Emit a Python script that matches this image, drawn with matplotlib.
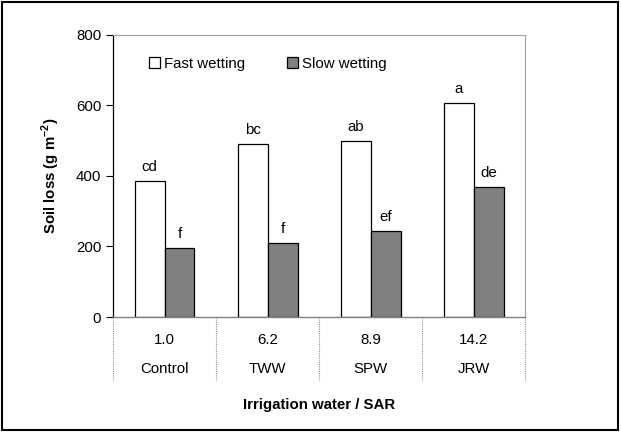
import numpy as np
import matplotlib
matplotlib.use("Agg")
import matplotlib.pyplot as plt
from matplotlib.patches import Rectangle

plt.rcParams['font.family'] = ['Liberation Sans', 'DejaVu Sans']

#data
treatments = ["Control", "TWW", "SPW", "JRW"]
sar = ["1.0", "6.2", "8.9", "14.2"]
fast = [385, 490, 500, 605]
slow = [195, 210, 244, 368]
fast_letters = ["cd", "bc", "ab", "a"]
slow_letters = ["f", "f", "ef", "de"]

fs = 10.8

fig = plt.figure(figsize=(6.21, 4.32), dpi=100)
ax = fig.add_axes([0.182, 0.266, 0.664, 0.654])

x = np.arange(len(treatments))
w = 0.29
b1 = ax.bar(x - w/2, fast, w, color="white", edgecolor="black", linewidth=0.9, label="Fast wetting")
b2 = ax.bar(x + w/2, slow, w, color="#808080", edgecolor="black", linewidth=0.9, label="Slow wetting")

for rects, labs in [(b1, fast_letters), (b2, slow_letters)]:
    for r, lab in zip(rects, labs):
        ax.annotate(lab, (r.get_x() + r.get_width()/2, r.get_height()),
                    xytext=(0, 5), textcoords="offset points",
                    ha="center", va="bottom", fontsize=fs)

ax.set_xlim(-0.5, 3.5)
ax.set_ylim(0, 800)
ax.set_yticks([0, 200, 400, 600, 800])
ax.tick_params(axis="y", labelsize=fs, length=5, width=0.8, direction="out")
ax.set_xticks([])

ax.spines["left"].set_color("black")
ax.spines["left"].set_linewidth(0.9)
for s in ["top", "right"]:
    ax.spines[s].set_color("#a0a0a0")
    ax.spines[s].set_linewidth(0.8)
ax.spines["bottom"].set_color("#808080")
ax.spines["bottom"].set_linewidth(1.0)

#table-like category labels under the axis
tr = ax.get_xaxis_transform()
for xd in np.arange(-0.5, 4.0, 1.0):
    ax.plot([xd, xd], [0, -0.223], transform=tr, color="#909090",
            linewidth=0.8, linestyle=(0, (1, 1)), clip_on=False)
for i in range(len(treatments)):
    ax.text(i, -0.08, sar[i], transform=tr, ha="center", va="center", fontsize=fs)
    ax.text(i, -0.185, treatments[i], transform=tr, ha="center", va="center", fontsize=fs)

ax.set_ylabel("Soil loss (g m$^{\\mathregular{-2}}$)", fontsize=fs, fontweight="bold", labelpad=10)
ax.text(0.5, -0.31, "Irrigation water / SAR", transform=ax.transAxes,
        ha="center", va="center", fontsize=fs, fontweight="bold")

ax.legend(loc="upper left", bbox_to_anchor=(0.055, 0.97), ncol=2, frameon=False,
          handlelength=0.7, handleheight=0.7, handletextpad=0.3, columnspacing=2.8,
          fontsize=fs)

#outer border round the whole figure
fig.patches.append(Rectangle((0.004, 0.004), 0.991, 0.991, transform=fig.transFigure,
                             fill=False, edgecolor="black", linewidth=1.5))

plt.savefig("out.png", dpi=100)
